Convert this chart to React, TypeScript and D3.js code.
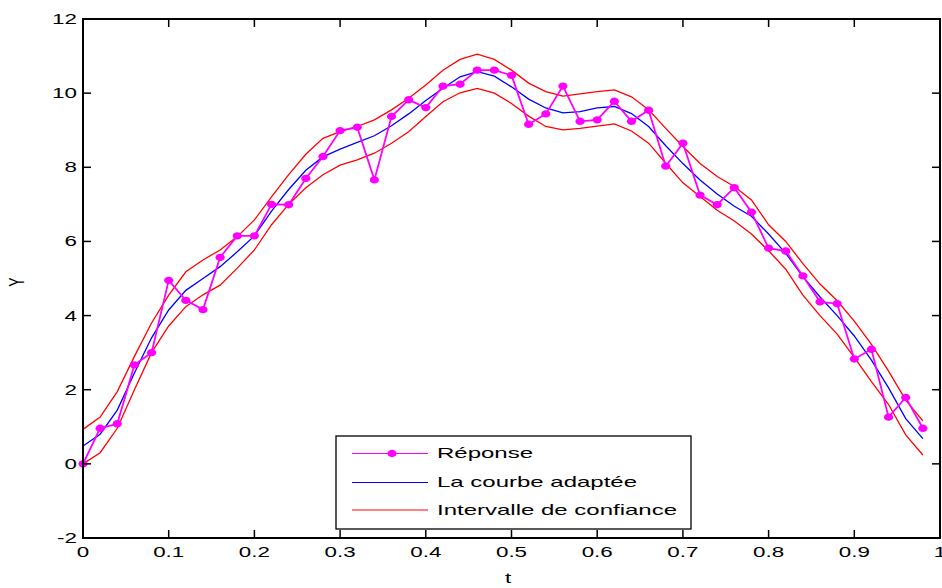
import React from "react";
import * as d3 from "d3";

// sample times t = 0, 0.02, ..., 0.98
const tValues = [
  0, 0.02, 0.04, 0.06, 0.08, 0.1, 0.12, 0.14, 0.16, 0.18,
  0.2, 0.22, 0.24, 0.26, 0.28, 0.3, 0.32, 0.34, 0.36, 0.38,
  0.4, 0.42, 0.44, 0.46, 0.48, 0.5, 0.52, 0.54, 0.56, 0.58,
  0.6, 0.62, 0.64, 0.66, 0.68, 0.7, 0.72, 0.74, 0.76, 0.78,
  0.8, 0.82, 0.84, 0.86, 0.88, 0.9, 0.92, 0.94, 0.96, 0.98,
];

// Réponse (measured)
const reponse = [
  0, 0.96, 1.08, 2.67, 3.0, 4.95, 4.41, 4.16, 5.57, 6.15,
  6.15, 7.0, 6.99, 7.7, 8.29, 8.99, 9.08, 7.66, 9.37, 9.82,
  9.61, 10.19, 10.24, 10.62, 10.62, 10.48, 9.16, 9.44, 10.19, 9.24,
  9.28, 9.78, 9.24, 9.54, 8.03, 8.65, 7.25, 6.99, 7.45, 6.79,
  5.82, 5.74, 5.07, 4.37, 4.32, 2.83, 3.09, 1.26, 1.79, 0.96,
];

// La courbe adaptée
const courbe = [
  0.48, 0.8, 1.45, 2.45, 3.4, 4.15, 4.68, 5.0, 5.32, 5.72,
  6.15, 6.82, 7.4, 7.92, 8.28, 8.49, 8.67, 8.85, 9.12, 9.44,
  9.8, 10.13, 10.44, 10.58, 10.46, 10.17, 9.84, 9.6, 9.47, 9.5,
  9.6, 9.64, 9.45, 9.1, 8.58, 8.1, 7.66, 7.28, 6.95, 6.68,
  6.2, 5.68, 5.05, 4.5, 4.0, 3.45, 2.8, 2.05, 1.22, 0.68,
];

// Intervalle de confiance
const upper = [
  0.93, 1.26, 1.95, 2.9, 3.8, 4.55, 5.18, 5.5, 5.77, 6.13,
  6.58, 7.2, 7.8, 8.35, 8.78, 8.96, 9.1, 9.28, 9.55, 9.86,
  10.22, 10.62, 10.91, 11.05, 10.91, 10.62, 10.27, 10.04, 9.92, 9.98,
  10.04, 10.09, 9.9, 9.55, 9.05, 8.56, 8.1, 7.75, 7.48, 7.12,
  6.45, 6.0, 5.4, 4.85, 4.4, 3.85, 3.22, 2.5, 1.72, 1.16,
];
const lower = [
  0.0, 0.3, 0.96, 2.0, 3.0, 3.72, 4.24, 4.56, 4.82, 5.28,
  5.77, 6.45, 7.0, 7.45, 7.8, 8.06, 8.2, 8.38, 8.65, 8.96,
  9.37, 9.77, 10.01, 10.13, 10.0, 9.72, 9.38, 9.1, 9.01, 9.05,
  9.11, 9.17, 8.98, 8.65, 8.11, 7.58, 7.21, 6.84, 6.55, 6.2,
  5.75, 5.25, 4.55, 4.0, 3.5, 2.87, 2.22, 1.6, 0.78, 0.24,
];

const xTicks = [0, 0.1, 0.2, 0.3, 0.4, 0.5, 0.6, 0.7, 0.8, 0.9, 1];
const yTicks = [-2, 0, 2, 4, 6, 8, 10, 12];
const legendItems = ["Réponse", "La courbe adaptée", "Intervalle de confiance"];

const W = 942;
const H = 588;
const m = { left: 83, right: 2, top: 19, bottom: 50 };
const SX = 1.6; // horizontal stretch of the original picture
const FONT = "'Liberation Sans', Arial, sans-serif";

const App = () => {
  const x = d3.scaleLinear().domain([0, 1]).range([m.left, W - m.right]);
  const y = d3.scaleLinear().domain([-2, 12]).range([H - m.bottom, m.top]);

  const line = (vals: number[]) =>
    d3.line<number>().x((_, i) => x(tValues[i])).y((d) => y(d))(vals) || "";

  const x0 = x(0), x1 = x(1), y0 = y(-2), y1 = y(12);
  const tick = 8;

  const lx = 336, ly = 436, lw = 355, lh = 93;
  const rowY = [453.5, 482.5, 510];

  return (
    <svg
      width={W}
      height={H}
      style={{ position: "absolute", left: 0, top: 0, background: "#fff" }}
      fontFamily={FONT}
    >
      <rect width={W} height={H} fill="#fff" />

      {/* confidence band */}
      <path d={line(upper)} fill="none" stroke="#ff0000" strokeWidth={1.3} />
      <path d={line(lower)} fill="none" stroke="#ff0000" strokeWidth={1.3} />
      {/* fitted curve */}
      <path d={line(courbe)} fill="none" stroke="#0000ff" strokeWidth={1.3} />
      {/* response */}
      <path d={line(reponse)} fill="none" stroke="#ff00ff" strokeWidth={1.8} />
      {reponse.map((v, i) => (
        <ellipse key={i} cx={x(tValues[i])} cy={y(v)} rx={4.6} ry={3.7} fill="#ff00ff" />
      ))}

      {/* box */}
      <rect x={x0} y={y1} width={x1 - x0} height={y0 - y1} fill="none" stroke="#000" strokeWidth={2} />

      {xTicks.map((t) => (
        <g key={"x" + t}>
          <line x1={x(t)} x2={x(t)} y1={y0} y2={y0 - tick} stroke="#000" strokeWidth={1.5} />
          <line x1={x(t)} x2={x(t)} y1={y1} y2={y1 + tick} stroke="#000" strokeWidth={1.5} />
          <text
            transform={`translate(${x(t)},${557}) scale(${SX},1)`}
            textAnchor="middle"
            fontSize={14}
          >
            {t}
          </text>
        </g>
      ))}
      {yTicks.map((v) => (
        <g key={"y" + v}>
          <line x1={x0} x2={x0 + tick} y1={y(v)} y2={y(v)} stroke="#000" strokeWidth={1.5} />
          <line x1={x1} x2={x1 - tick} y1={y(v)} y2={y(v)} stroke="#000" strokeWidth={1.5} />
          <text
            transform={`translate(${77},${y(v) + 5}) scale(${SX},1)`}
            textAnchor="end"
            fontSize={14}
          >
            {v}
          </text>
        </g>
      ))}

      <text transform={`translate(${508},${583}) scale(${SX},1)`} textAnchor="middle" fontSize={14}>
        t
      </text>
      <text
        transform={`translate(${24},${282}) scale(${SX},1) rotate(-90)`}
        textAnchor="middle"
        fontSize={14}
      >
        Y
      </text>

      {/* legend */}
      <rect x={lx} y={ly} width={lw} height={lh} fill="#fff" stroke="#000" strokeWidth={1.3} />
      {legendItems.map((label, i) => (
        <g key={label}>
          <line
            x1={352}
            x2={428}
            y1={rowY[i]}
            y2={rowY[i]}
            stroke={i === 0 ? "#ff00ff" : i === 1 ? "#0000ff" : "#ff0000"}
            strokeWidth={1.2}
          />
          {i === 0 && <ellipse cx={392} cy={rowY[i]} rx={4.6} ry={3.7} fill="#ff00ff" />}
          <text transform={`translate(${437},${rowY[i] + 4.5}) scale(${SX},1)`} fontSize={15}>
            {label}
          </text>
        </g>
      ))}
    </svg>
  );
};

export default App;
